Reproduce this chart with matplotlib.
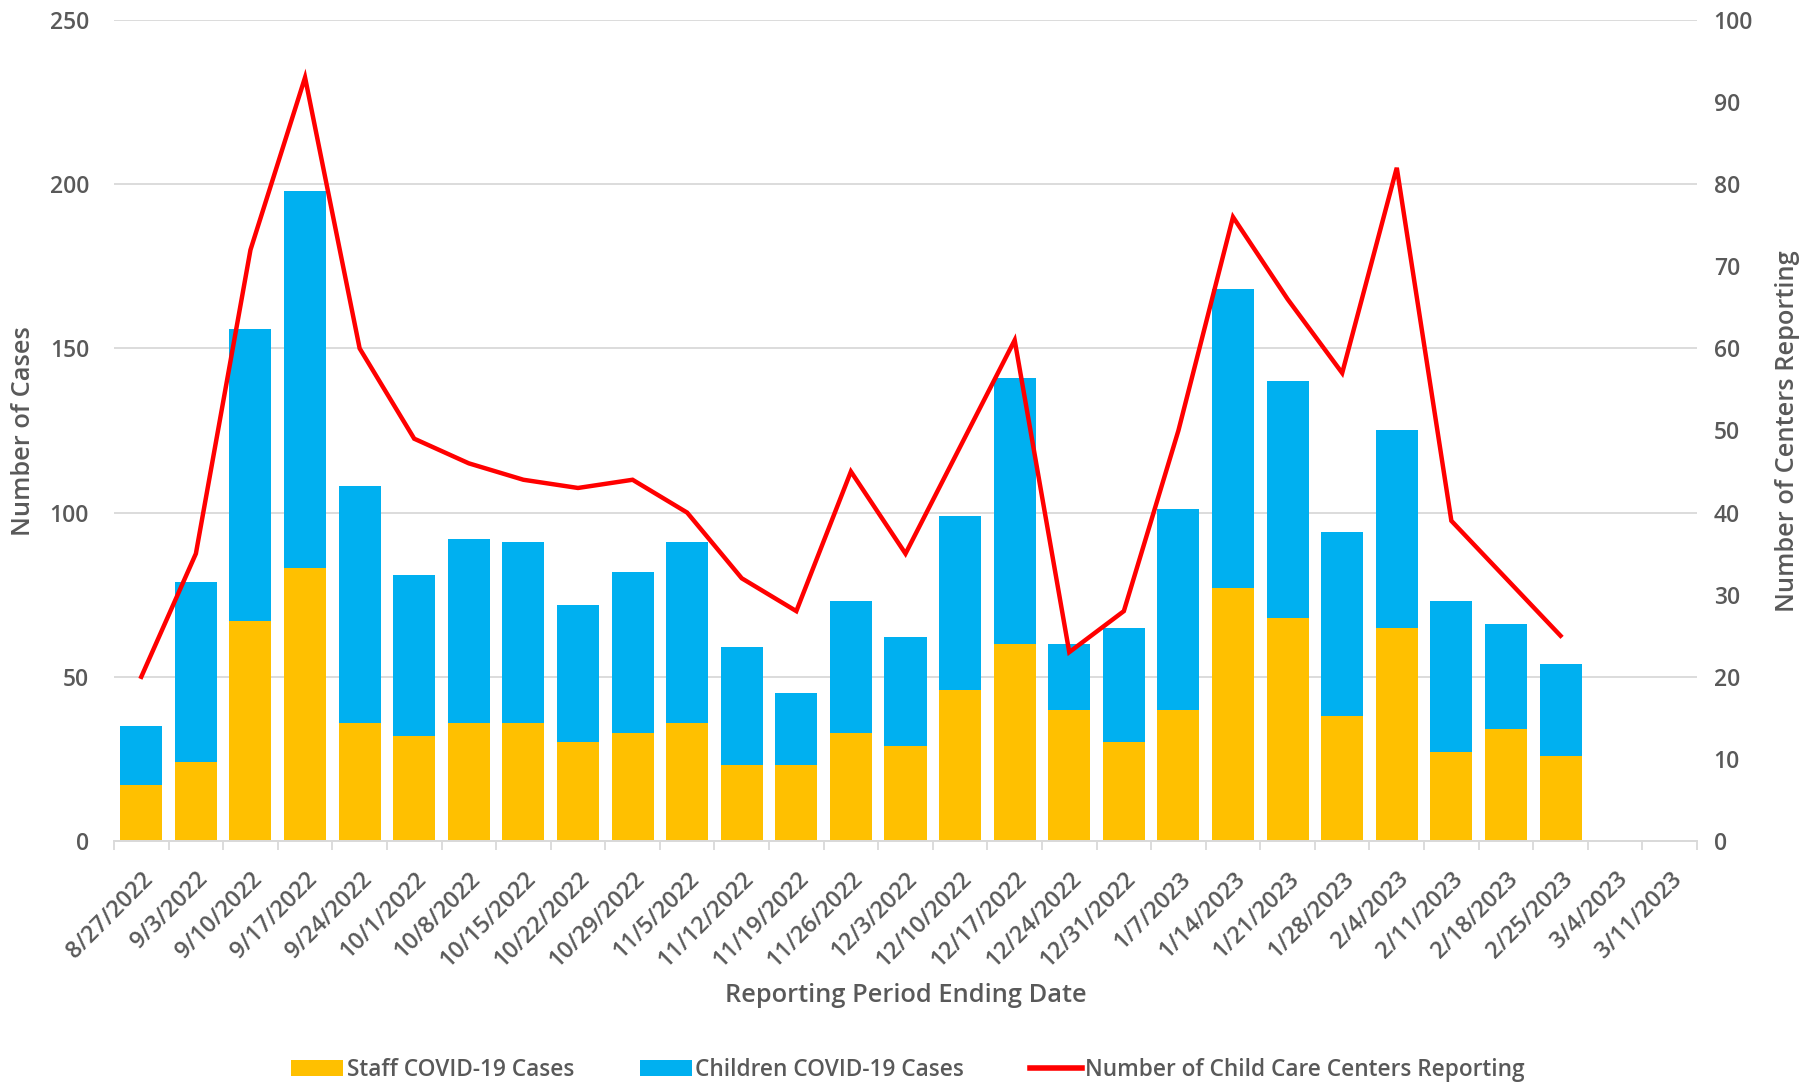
import matplotlib
matplotlib.use("Agg")
import matplotlib.pyplot as plt
from matplotlib.lines import Line2D
from matplotlib.patches import Patch
import numpy as np

plt.rcParams["font.family"] = ["Open Sans", "DejaVu Sans"]

# Data
dates = [
    "8/27/2022", "9/3/2022", "9/10/2022", "9/17/2022", "9/24/2022", "10/1/2022",
    "10/8/2022", "10/15/2022", "10/22/2022", "10/29/2022", "11/5/2022", "11/12/2022",
    "11/19/2022", "11/26/2022", "12/3/2022", "12/10/2022", "12/17/2022", "12/24/2022",
    "12/31/2022", "1/7/2023", "1/14/2023", "1/21/2023", "1/28/2023", "2/4/2023",
    "2/11/2023", "2/18/2023", "2/25/2023", "3/4/2023", "3/11/2023",
]
staff_cases = [17, 24, 67, 83, 36, 32, 36, 36, 30, 33, 36, 23, 23, 33, 29,
               46, 60, 40, 30, 40, 77, 68, 38, 65, 27, 34, 26]
children_cases = [18, 55, 89, 115, 72, 49, 56, 55, 42, 49, 55, 36, 22, 40, 33,
                  53, 81, 20, 35, 61, 91, 72, 56, 60, 46, 32, 28]
centers_reporting = [20, 35, 72, 93, 60, 49, 46, 44, 43, 44, 40, 32, 28, 45, 35,
                     48, 61, 23, 28, 50, 76, 66, 57, 82, 39, 32, 25]

STAFF_COLOR = "#FFC000"
CHILD_COLOR = "#00B0F0"
LINE_COLOR = "#FF0000"
TEXT_COLOR = "#595959"
GRID_COLOR = "#D9D9D9"

W, H = 1816, 1082
fig = plt.figure(figsize=(W / 100, H / 100), dpi=100)
left, right, top, bottom = 114, 1697, 20, 841
ax = fig.add_axes([left / W, 1 - bottom / H, (right - left) / W, (bottom - top) / H])
ax2 = ax.twinx()

x_all = np.arange(len(dates))
x = np.arange(len(staff_cases))
bar_w = 0.77

ax.bar(x, staff_cases, width=bar_w, color=STAFF_COLOR, zorder=2)
ax.bar(x, children_cases, width=bar_w, bottom=staff_cases, color=CHILD_COLOR, zorder=2)
ax2.plot(x, centers_reporting, color=LINE_COLOR, lw=3.2, solid_joinstyle="miter", zorder=3)

# Left axis
ax.set_xlim(-0.5, len(dates) - 0.5)
ax.set_ylim(0, 250)
ax.set_yticks(range(0, 251, 50))
ax.grid(axis="y", color=GRID_COLOR, lw=1.3, zorder=0)
ax.set_axisbelow(True)

# Right axis
ax2.set_ylim(0, 100)
ax2.set_yticks(range(0, 101, 10))

for a in (ax, ax2):
    for s in ("top", "left", "right"):
        a.spines[s].set_visible(False)
    a.spines["bottom"].set_color(GRID_COLOR)
    a.spines["bottom"].set_linewidth(1.3)
    a.tick_params(axis="y", length=0, labelsize=16.5, labelcolor=TEXT_COLOR)
    for lbl in a.get_yticklabels():
        lbl.set_fontweight("semibold")
ax.tick_params(axis="y", pad=18)
ax2.tick_params(axis="y", pad=12)

# Category ticks between bars, labels centred under bars
ax.set_xticks(x_all)
ax.set_xticklabels(dates, rotation=45, ha="right", rotation_mode="anchor",
                   fontsize=16.8, color=TEXT_COLOR, fontweight="semibold")
ax.tick_params(axis="x", which="major", length=0, pad=19)
ax.set_xticks(np.arange(-0.5, len(dates), 1.0), minor=True)
ax.tick_params(axis="x", which="minor", length=6.5, color=GRID_COLOR, width=1.3)

label_kw = dict(fontsize=18.3, color=TEXT_COLOR, fontweight="semibold")
fig.text((left + right) / 2 / W, 1 - 995 / H, "Reporting Period Ending Date",
         ha="center", va="center", **label_kw)
fig.text(24 / W, 1 - 431 / H, "Number of Cases", rotation=90,
         ha="center", va="center", **label_kw)
fig.text(1787 / W, 1 - 431 / H, "Number of Centers Reporting", rotation=90,
         ha="center", va="center", **label_kw)

handles = [
    Patch(facecolor=STAFF_COLOR, label="Staff COVID-19 Cases"),
    Patch(facecolor=CHILD_COLOR, label="Children COVID-19 Cases"),
    Line2D([0], [0], color=LINE_COLOR, lw=4, label="Number of Child Care Centers Reporting"),
]
leg = fig.legend(handles=handles, loc="center", bbox_to_anchor=(0.5, 1 - 1070 / H), ncol=3,
                 frameon=False, fontsize=16.3, labelcolor=TEXT_COLOR, handlelength=2.3,
                 handleheight=0.65, handletextpad=0.15, columnspacing=2.9)
for t in leg.get_texts():
    t.set_fontweight("semibold")

fig.savefig("out.png", dpi=100)
